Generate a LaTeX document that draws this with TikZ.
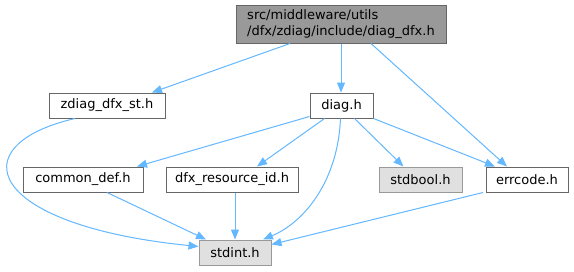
\documentclass[tikz,border=0pt]{standalone}
\usepackage{fontspec}
\setmainfont{DejaVu Sans}
\usetikzlibrary{arrows.meta}
\definecolor{edgeblue}{HTML}{63B8FF}
\definecolor{darkborder}{HTML}{666666}
\definecolor{lightborder}{HTML}{999999}
\definecolor{topfill}{HTML}{999999}
\definecolor{sysfill}{HTML}{E0E0E0}
\begin{document}
\begin{tikzpicture}[x=1pt,y=-1pt,
  filebox/.style={draw=darkborder,fill=white,line width=1pt,inner sep=0pt,minimum height=25pt,font=\fontsize{13}{16}\selectfont},
  sysbox/.style={filebox,draw=lightborder,fill=sysfill},
  topbox/.style={filebox,fill=topfill,minimum height=38pt,align=left},
  dep/.style={draw=edgeblue,line width=1pt,-{Triangle[length=10pt,width=8pt]}}]
\useasboundingbox[fill=white] (0,0) rectangle (574,271);
\node[topbox,minimum width=210pt] (top) at (341,24) {src/middleware/utils\\/dfx/zdiag/include/diag\_dfx.h};
\node[filebox,minimum width=116pt] (zdiag) at (107,105.5) {zdiag\_dfx\_st.h};
\node[filebox,minimum width=63pt] (diag) at (341.5,105.5) {diag.h};
\node[filebox,minimum width=120pt] (common) at (83,179.5) {common\_def.h};
\node[filebox,minimum width=132pt] (dfx) at (232,179.5) {dfx\_resource\_id.h};
\node[sysbox,minimum width=83pt] (stdbool) at (420.5,179.5) {stdbool.h};
\node[filebox,minimum width=82pt] (errcode) at (527,179.5) {errcode.h};
\node[sysbox,minimum width=72pt] (stdint) at (235,252.5) {stdint.h};

\draw[dep] ([xshift=-51pt]top.south) -- ([xshift=45pt]zdiag.north);
\draw[dep] (top.south) -- ([xshift=-0.5pt]diag.north);
\draw[dep] ([xshift=30pt]top.south) -- ([xshift=-20pt]errcode.north);
\draw[dep] ([yshift=2pt]diag.south west) -- ([xshift=54pt]common.north);
\draw[dep] ([xshift=-17pt]diag.south) -- ([xshift=25pt]dfx.north);
\draw[dep] ([xshift=-1pt]diag.south) .. controls (338,180) and (305,222) .. ([xshift=28pt]stdint.north);
\draw[dep] ([xshift=13pt]diag.south) -- ([xshift=-17pt]stdbool.north);
\draw[dep] (diag.south east) -- ([xshift=-32pt]errcode.north);
\draw[dep] ([xshift=-32pt]zdiag.south) .. controls (-40,145) and (-15,225) .. ([yshift=6pt]stdint.west);
\draw[dep] ([xshift=24pt]common.south) -- ([xshift=-29pt]stdint.north);
\draw[dep] ([xshift=3pt]dfx.south) -- (stdint.north);
\draw[dep] ([xshift=-44pt]errcode.south) -- ([yshift=8pt]stdint.east);
\end{tikzpicture}
\end{document}
